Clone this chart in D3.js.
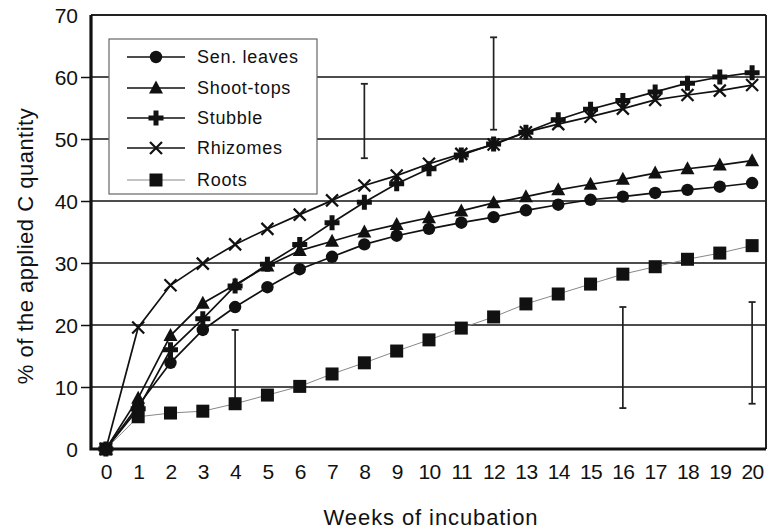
<!DOCTYPE html>
<html><head><meta charset="utf-8">
<script src="https://cdn.jsdelivr.net/npm/d3@7"></script>
<style>body{margin:0;background:#fff}svg{display:block}text{font-family:"Liberation Sans",Arial,sans-serif;fill:#111}</style>
</head><body>
<svg id="c" width="770" height="532"></svg>
<script>
const weeks = d3.range(0, 21);
const senLeaves = [0, 7, 13.9, 19.2, 22.9, 26.1, 29, 31, 33, 34.4, 35.5, 36.5, 37.4, 38.5, 39.4, 40.2, 40.7, 41.3, 41.8, 42.3, 42.9];
const shootTops = [0, 8.2, 18.3, 23.5, 26.5, 29.5, 32, 33.5, 35, 36.2, 37.3, 38.4, 39.7, 40.7, 41.8, 42.7, 43.5, 44.5, 45.2, 45.8, 46.5];
const stubble   = [0, 6.5, 16, 21, 26.3, 29.8, 33, 36.5, 39.8, 42.8, 45.2, 47.4, 49.2, 51.1, 53.1, 54.8, 56.2, 57.6, 59, 60, 60.7];
const rhizomes  = [0, 19.6, 26.4, 29.9, 33, 35.5, 37.8, 40.1, 42.5, 44.1, 46, 47.6, 49.1, 51.1, 52.4, 53.6, 54.9, 56.3, 57.1, 57.8, 58.7];
const roots     = [0, 5.2, 5.8, 6.1, 7.3, 8.7, 10.1, 12.1, 13.9, 15.8, 17.6, 19.5, 21.3, 23.4, 25, 26.6, 28.2, 29.4, 30.6, 31.6, 32.8];
const errWeeks  = [4, 8, 12, 16, 20];
const errLow    = [8.1, 46.9, 51.5, 6.6, 7.3];
const errHigh   = [19.2, 58.9, 66.4, 22.9, 23.7];
const yTicks    = [0, 10, 20, 30, 40, 50, 60, 70];
const seriesNames = ["Sen. leaves", "Shoot-tops", "Stubble", "Rhizomes", "Roots"];

const svg = d3.select("#c");
const x = d3.scaleLinear().domain([-0.46, 20.43]).range([91, 766]);
const y = d3.scaleLinear().domain([0, 70]).range([449, 15]);
const L = 91, R = 766, T = 15, B = 449;

// grid lines
svg.append("g").selectAll("line").data(yTicks.filter(v => v > 0 && v < 70)).join("line")
  .attr("x1", L).attr("x2", R).attr("y1", d => y(d)).attr("y2", d => y(d))
  .attr("stroke", "#111").attr("stroke-width", 1.7);

// frame
svg.append("line").attr("x1", L).attr("x2", R).attr("y1", T).attr("y2", T).attr("stroke", "#222").attr("stroke-width", 2);
svg.append("line").attr("x1", R).attr("x2", R).attr("y1", T).attr("y2", B).attr("stroke", "#222").attr("stroke-width", 2);

// y axis
const yAxis = d3.axisLeft(y).tickValues(yTicks).tickSize(10).tickPadding(3);
const gy = svg.append("g").attr("transform", `translate(${L},0)`).call(yAxis);
gy.select(".domain").remove();
gy.selectAll(".tick line").attr("stroke", "#111").attr("stroke-width", 1.5);
gy.selectAll(".tick text").style("font-size", "21px").attr("dy", "0.36em");
gy.selectAll(".tick").filter(d => d === 0 || d === 70).select("line").remove();

// x axis labels
const xAxis = d3.axisBottom(x).tickValues(weeks).tickSize(0).tickPadding(15);
const gx = svg.append("g").attr("transform", `translate(0,${B})`).call(xAxis);
gx.select(".domain").remove();
gx.selectAll(".tick text").style("font-size", "21px").style("letter-spacing", "-0.6px");

// thick left & bottom axes
svg.append("path").attr("d", `M${L},${T} V${B} H${R}`).attr("fill", "none").attr("stroke", "#111").attr("stroke-width", 3.2);

// error bars
const eb = svg.append("g");
errWeeks.forEach((w, i) => {
  const cx = x(w);
  eb.append("line").attr("x1", cx).attr("x2", cx).attr("y1", y(errLow[i])).attr("y2", y(errHigh[i])).attr("stroke", "#222").attr("stroke-width", 1.7);
  [errLow[i], errHigh[i]].forEach(v => eb.append("line").attr("x1", cx - 3.5).attr("x2", cx + 3.5).attr("y1", y(v)).attr("y2", y(v)).attr("stroke", "#222").attr("stroke-width", 1.8));
});

// markers
function marker(g, type, cx, cy) {
  if (type === 0) g.append("circle").attr("cx", cx).attr("cy", cy).attr("r", 6.2).attr("fill", "#111");
  else if (type === 1) g.append("path").attr("d", `M${cx},${cy-7.5} L${cx+7},${cy+5.5} L${cx-7},${cy+5.5}Z`).attr("fill", "#111");
  else if (type === 2) g.append("path").attr("fill", "#111")
        .attr("d", `M${cx-2.5},${cy-7.5} L${cx+2.5},${cy-7.5} L${cx+2.5},${cy-2.5} L${cx+7.5},${cy-2.5} L${cx+7.5},${cy+2.5} L${cx+2.5},${cy+2.5} L${cx+2.5},${cy+7.5} L${cx-2.5},${cy+7.5} L${cx-2.5},${cy+2.5} L${cx-7.5},${cy+2.5} L${cx-7.5},${cy-2.5} L${cx-2.5},${cy-2.5}Z`);
  else if (type === 3) g.append("path").attr("d", `M${cx-6},${cy-6} L${cx+6},${cy+6} M${cx+6},${cy-6} L${cx-6},${cy+6}`).attr("stroke", "#111").attr("stroke-width", 2.2).attr("fill", "none");
  else g.append("rect").attr("x", cx - 6.5).attr("y", cy - 6.5).attr("width", 13).attr("height", 13).attr("fill", "#111");
}

const allSeries = [senLeaves, shootTops, stubble, rhizomes, roots];
const line = d3.line().x((d, i) => x(weeks[i])).y(d => y(d));
const order = [4, 3, 0, 1, 2];
order.forEach(si => {
  svg.append("path").datum(allSeries[si]).attr("d", line).attr("fill", "none")
    .attr("stroke", si === 4 ? "#888" : "#111").attr("stroke-width", si === 4 ? 1 : 1.7);
});
order.forEach(si => {
  const g = svg.append("g");
  allSeries[si].forEach((v, i) => marker(g, si, x(weeks[i]), y(v)));
});

// legend
const lg = svg.append("g");
lg.append("rect").attr("x", 109).attr("y", 39).attr("width", 208).attr("height", 155).attr("fill", "#fff").attr("stroke", "#666").attr("stroke-width", 1.2);
const ly = [57, 88, 118, 148, 180];
seriesNames.forEach((n, i) => {
  lg.append("line").attr("x1", 127).attr("x2", 185).attr("y1", ly[i]).attr("y2", ly[i])
    .attr("stroke", i === 4 ? "#888" : "#111").attr("stroke-width", i === 4 ? 1 : 1.7);
  marker(lg, i, 156, ly[i]);
  lg.append("text").attr("x", 197).attr("y", ly[i]).attr("dy", "0.36em").style("font-size", "18px").style("letter-spacing", "0.7px").text(n);
});

// axis titles
svg.append("text").attr("x", 431).attr("y", 525).attr("text-anchor", "middle").style("font-size", "22px").style("letter-spacing", "0.9px").text("Weeks of incubation");
svg.append("text").attr("transform", "translate(33,246) rotate(-90)").attr("text-anchor", "middle").style("font-size", "22px").style("letter-spacing", "0.5px").text("% of the applied C quantity");
</script>
</body></html>
